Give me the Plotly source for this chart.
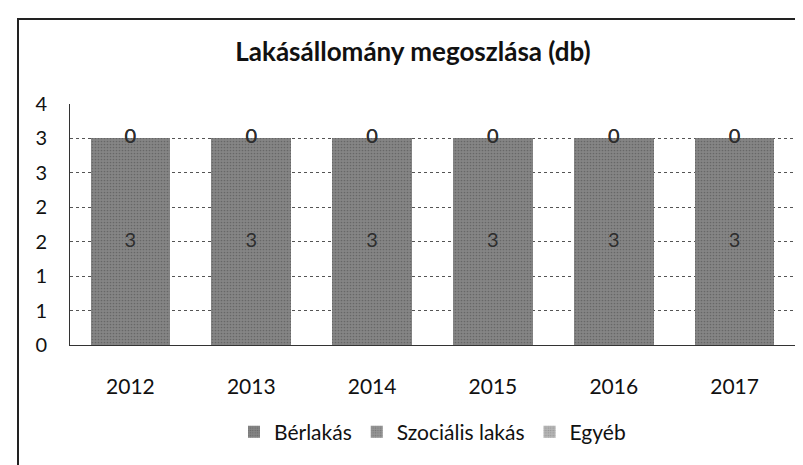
import plotly.graph_objects as go

years = ["2012", "2013", "2014", "2015", "2016", "2017"]
berlakas = [3, 3, 3, 3, 3, 3]
szocialis = [0, 0, 0, 0, 0, 0]
egyeb = [0, 0, 0, 0, 0, 0]
series_names = ["Bérlakás", "Szociális lakás", "Egyéb"]
y_tickvals = [0, 0.5, 1, 1.5, 2, 2.5, 3, 3.5]
y_ticktext = ["0", "1", "1", "2", "2", "3", "3", "4"]
title_text = "Lakásállomány megoszlása (db)"

FONT = "Lato, Open Sans, sans-serif"
colors = ["#858585", "#959595", "#b5b5b5"]
patterns = [".", ".", "."]
pattern_fg = ["#4a4a4a", "#555555", "#707070"]

fig = go.Figure()
series = [berlakas, szocialis, egyeb]
base = [0] * len(years)
for name, vals, col, pat, fg in zip(series_names, series, colors, patterns, pattern_fg):
    fig.add_trace(go.Bar(
        x=years, y=vals, name=name,
        marker=dict(color=col, line=dict(width=0),
                    pattern=dict(shape=pat, fgcolor=fg, size=3, solidity=0.25)),
    ))
    mids = [b + v / 2 for b, v in zip(base, vals)]
    fig.add_trace(go.Scatter(
        x=years, y=mids, mode="text", text=[str(v) for v in vals],
        textfont=dict(family=FONT, size=20, color="#2e2e2e"),
        showlegend=False, hoverinfo="skip",
    ))
    base = [b + v for b, v in zip(base, vals)]

L, R, T, B = 62, 16, 96, 128
W, H = 803, 465
pw, ph = W - L - R, H - T - B

fig.update_layout(
    width=W, height=H,
    margin=dict(l=L, r=R, t=T, b=B),
    barmode="stack", bargap=0.34,
    paper_bgcolor="white", plot_bgcolor="white",
    font=dict(family=FONT, color="#111111"),
    title=dict(text="<b>" + title_text + "</b>", x=405 / W, xanchor="center",
               y=1 - 44 / H, yanchor="middle",
               font=dict(size=26, family=FONT, color="#111111")),
    legend=dict(orientation="h", x=0.5, xanchor="center", y=-(424 - 337) / ph,
                yanchor="middle", font=dict(size=21, family=FONT, color="#111111"),
                itemwidth=30, traceorder="normal"),
    xaxis=dict(showgrid=False, showline=True, linecolor="#333333", linewidth=1,
               ticks="", tickfont=dict(size=21, family=FONT, color="#111111"),
               ticklabelstandoff=23),
    yaxis=dict(range=[0, 3.5], tickvals=y_tickvals, ticktext=y_ticktext,
               showgrid=True, gridcolor="#555555", griddash="dot", gridwidth=1,
               showline=True, linecolor="#333333", linewidth=1,
               zeroline=False, ticks="", ticklabelstandoff=18,
               tickfont=dict(size=20, family=FONT, color="#111111")),
    shapes=[dict(type="rect", xref="paper", yref="paper",
                 x0=(10 - L) / pw, x1=(812 - L) / pw,
                 y0=(337 - 458) / ph, y1=(337 - 11) / ph,
                 line=dict(color="#222222", width=2), layer="below")],
)

fig.write_html("out.html")
